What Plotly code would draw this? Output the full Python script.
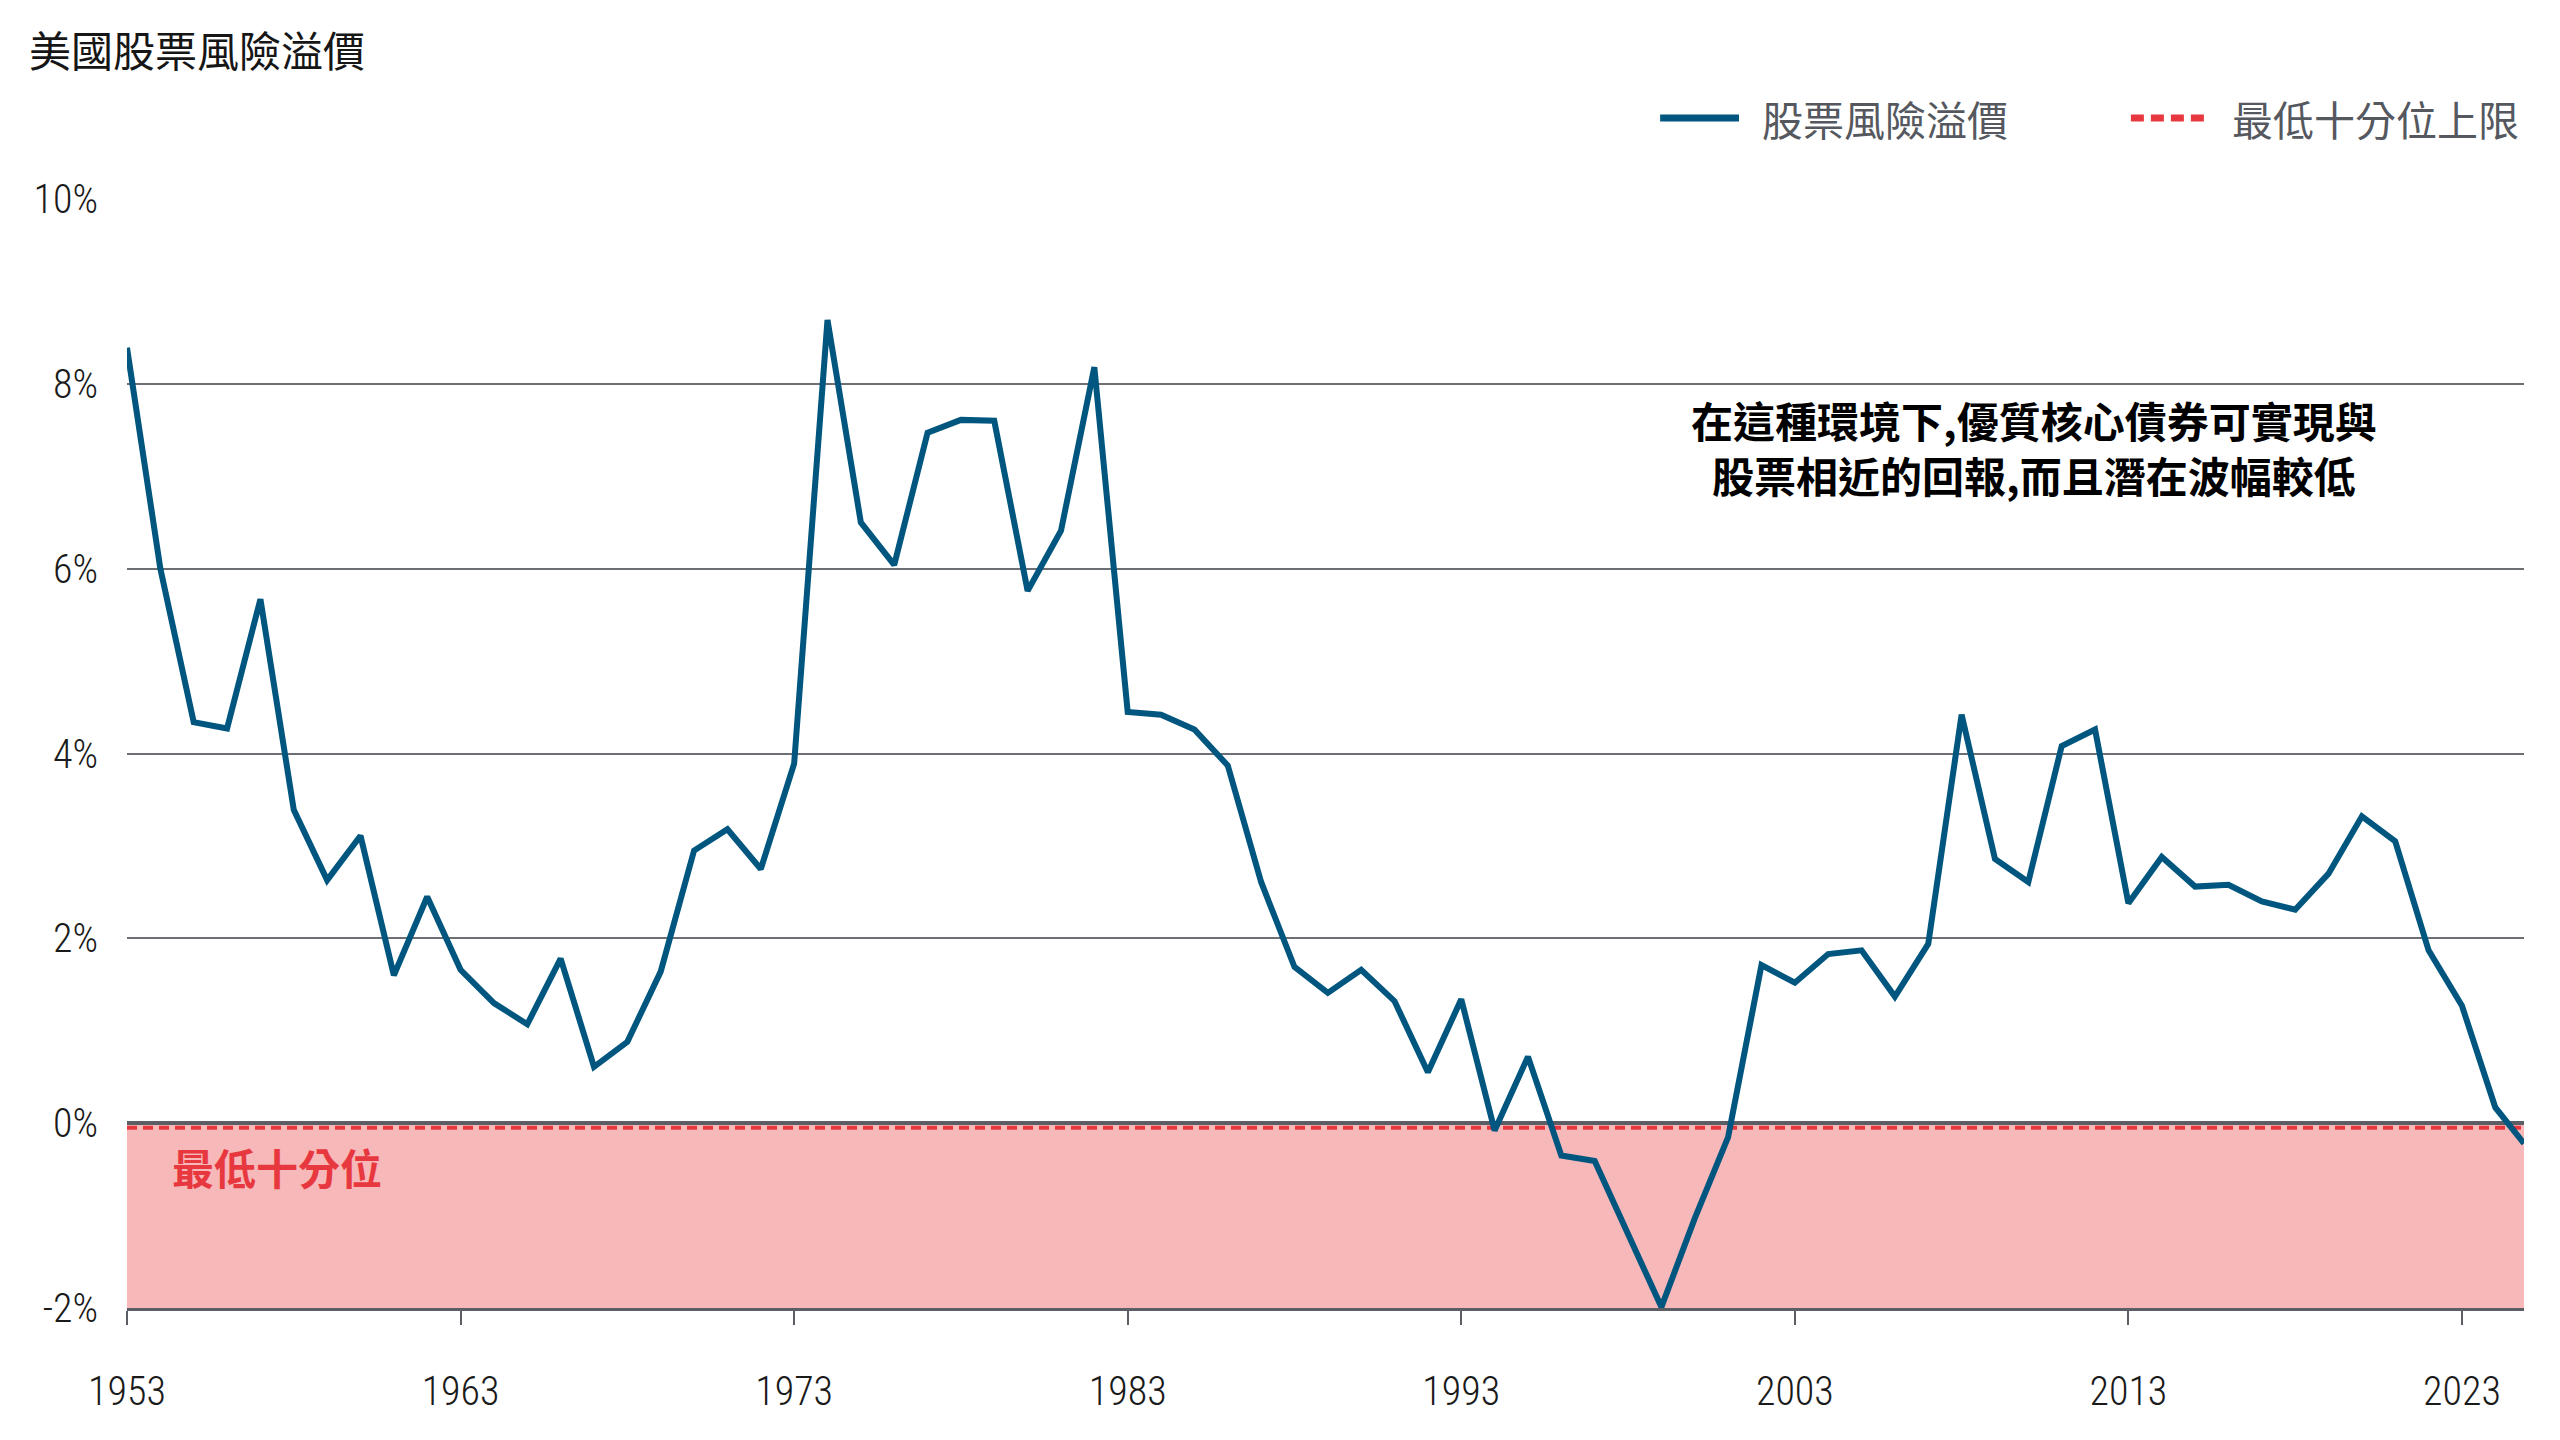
import plotly.graph_objects as go

# ---------------- data ----------------
years = list(range(1953, 2025)) + [2024.5, 2024.86]
erp = [8.39, 6.00, 4.34, 4.27, 5.67, 3.39, 2.63, 3.11, 1.60, 2.45,
       1.66, 1.30, 1.07, 1.78, 0.61, 0.88, 1.64, 2.95, 3.18, 2.75,
       3.89, 8.69, 6.50, 6.04, 7.47, 7.61, 7.60, 5.76, 6.41, 8.18,
       4.45, 4.42, 4.26, 3.87, 2.61, 1.69, 1.41, 1.66, 1.32, 0.55,
       1.34, -0.08, 0.72, -0.35, -0.41, -1.19, -1.99, -1.03, -0.15, 1.71,
       1.52, 1.83, 1.87, 1.37, 1.94, 4.42, 2.86, 2.61, 4.08, 4.26,
       2.38, 2.88, 2.56, 2.58, 2.40, 2.31, 2.70, 3.32, 3.05, 1.87,
       1.27, 0.17, -0.07, -0.22]
bottom_decile_upper = -0.05
y_ticks = [-2, 0, 2, 4, 6, 8, 10]
y_tick_text = ["-2%", "0%", "2%", "4%", "6%", "8%", "10%"]
x_ticks = [1953, 1963, 1973, 1983, 1993, 2003, 2013, 2023]

title_text = "美國股票風險溢價"
series_name = "股票風險溢價"
thresh_name = "最低十分位上限"
zone_label = "最低十分位"
note_line1 = "在這種環境下,優質核心債券可實現與"
note_line2 = "股票相近的回報,而且潛在波幅較低"

# ---------------- style ----------------
BLUE = "#00567f"
RED = "#e8383f"
PINK = "#f7b8ba"
GRID = "#6c6f74"
AXIS = "#5b5f65"
CJK = "Noto Sans CJK TC"
NUM = "Roboto Condensed, Roboto, sans-serif"

fig = go.Figure()

# bottom-decile zone
fig.add_shape(type="rect", xref="paper", yref="y", x0=0, x1=1,
              y0=y_ticks[0], y1=0, fillcolor=PINK, line_width=0, layer="below")

fig.add_trace(go.Scatter(
    x=[years[0], years[-1]], y=[bottom_decile_upper, bottom_decile_upper],
    mode="lines", name=thresh_name, showlegend=False,
    line=dict(color=RED, width=4, dash="10px,6px"), hoverinfo="skip"))

fig.add_trace(go.Scatter(
    x=years, y=erp, mode="lines", name=series_name, showlegend=False,
    line=dict(color=BLUE, width=6)))

tick_font = dict(family=NUM, size=40, color="#1a1a1a", weight=300)

fig.update_layout(
    width=2560, height=1440,
    margin=dict(l=127, r=36, t=199, b=132),
    paper_bgcolor="white", plot_bgcolor="white",
    title=dict(text=title_text, x=29 / 2560, xanchor="left", xref="container",
               y=1 - 52 / 1440, yanchor="middle", yref="container",
               font=dict(family=CJK, size=42, color="#161616")),
    xaxis=dict(range=[years[0], years[-1]], tickvals=x_ticks,
               showgrid=False, zeroline=False,
               showline=True, linecolor=AXIS, linewidth=3,
               ticks="outside", ticklen=14, tickwidth=2, tickcolor=AXIS,
               ticklabelstandoff=32, tickfont=tick_font),
    yaxis=dict(range=[y_ticks[0], y_ticks[-1]], tickvals=y_ticks, ticktext=y_tick_text,
               showgrid=True, gridcolor=GRID, gridwidth=2,
               zeroline=True, zerolinecolor=AXIS, zerolinewidth=4,
               showline=False, ticks="", ticklabelstandoff=28, tickfont=tick_font),
)

# legend (line samples + real text)
legend_y = 1.073
fig.add_shape(type="line", xref="paper", yref="paper", x0=0.6396, x1=0.6725,
              y0=legend_y, y1=legend_y, line=dict(color=BLUE, width=7))
fig.add_annotation(xref="paper", yref="paper", x=0.6813, y=legend_y,
                   text=series_name, showarrow=False, xanchor="left", yanchor="middle",
                   font=dict(family=CJK, size=41, color="#55585e"))
fig.add_shape(type="line", xref="paper", yref="paper", x0=0.8360, x1=0.8690,
              y0=legend_y, y1=legend_y, line=dict(color=RED, width=7, dash="13px,7px"))
fig.add_annotation(xref="paper", yref="paper", x=0.8775, y=legend_y,
                   text=thresh_name, showarrow=False, xanchor="left", yanchor="middle",
                   font=dict(family=CJK, size=41, color="#55585e"))

# notes
fig.add_annotation(xref="paper", yref="paper", x=0.7956, y=0.776,
                   text="<b>" + note_line1 + "<br>" + note_line2 + "</b>", showarrow=False,
                   xanchor="center", yanchor="middle", align="center",
                   font=dict(family=CJK, size=42, color="#000000"))
fig.add_annotation(xref="paper", yref="paper", x=0.018, y=0.128,
                   text="<b>" + zone_label + "</b>", showarrow=False,
                   xanchor="left", yanchor="middle",
                   font=dict(family=CJK, size=42, color=RED))

fig.write_html("out.html")
